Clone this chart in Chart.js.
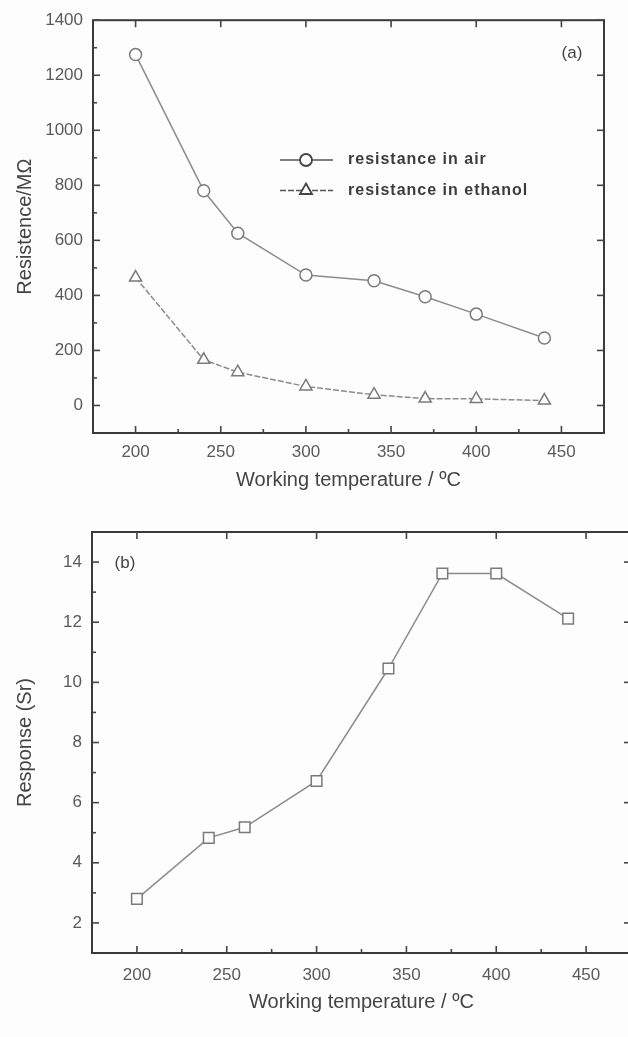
<!DOCTYPE html>
<html>
<head>
<meta charset="utf-8">
<script src="https://cdn.jsdelivr.net/npm/chart.js@4"></script>
<style>
html, body { margin: 0; padding: 0; background: #fdfdfd; overflow: hidden; }
body { width: 628px; height: 1037px; position: relative; }
#wrapA { position: absolute; left: 0; top: 0; }
#wrapB { position: absolute; left: 0; top: 500px; }
</style>
</head>
<body>
<div id="wrapA"><canvas id="chartA" width="628" height="500"></canvas></div>
<div id="wrapB"><canvas id="chartB" width="645" height="537"></canvas></div>
<script>
// data
const temps = [200, 240, 260, 300, 340, 370, 400, 440];
const resAir = [1275, 780, 626, 474, 453, 395, 332, 245];
const resEthanol = [465, 166, 121, 69, 39, 25, 24, 18];
const response = [2.8, 4.83, 5.18, 6.72, 10.46, 13.62, 13.62, 12.12];

const xTicks = [200, 250, 300, 350, 400, 450];
const xMinor = [225, 275, 325, 375, 425];
const yTicksA = [0, 200, 400, 600, 800, 1000, 1200, 1400];
const yMinorA = [100, 300, 500, 700, 900, 1100, 1300];
const yTicksB = [2, 4, 6, 8, 10, 12, 14];
const yMinorB = [3, 5, 7, 9, 11, 13];

const FONT = "'Liberation Sans', Arial, sans-serif";
const lineGray = '#8c8c8c';
const markGray = '#7a7a7a';

function pts(ys) {
    return temps.map((t, i) => ({ x: t, y: ys[i] }));
}

// box round the plot with inward ticks, plus the panel letter
const framePlugin = {
    id: 'frame',
    afterDraw(chart, args, opts) {
        const { ctx, chartArea: a, scales: { x, y } } = chart;
        ctx.save();
        ctx.strokeStyle = '#3a3a3a';
        ctx.lineWidth = 2;
        ctx.strokeRect(a.left, a.top, a.right - a.left, a.bottom - a.top);
        const tick = (x1, y1, x2, y2) => {
            ctx.beginPath(); ctx.moveTo(x1, y1); ctx.lineTo(x2, y2); ctx.stroke();
        };
        ctx.lineWidth = 1.6;
        ctx.strokeStyle = '#444';
        opts.xMajor.forEach(v => {
            const px = x.getPixelForValue(v);
            tick(px, a.bottom, px, a.bottom - 7);
            tick(px, a.top, px, a.top + 7);
        });
        opts.xMinor.forEach(v => {
            const px = x.getPixelForValue(v);
            tick(px, a.bottom, px, a.bottom - 4);
        });
        opts.yMajor.forEach(v => {
            const py = y.getPixelForValue(v);
            tick(a.left, py, a.left + 7, py);
            tick(a.right, py, a.right - 7, py);
        });
        opts.yMinor.forEach(v => {
            const py = y.getPixelForValue(v);
            tick(a.left, py, a.left + 4, py);
        });
        ctx.fillStyle = '#444';
        ctx.font = '17px ' + FONT;
        ctx.textAlign = 'center';
        ctx.textBaseline = 'middle';
        ctx.fillText(opts.label, opts.labelX, opts.labelY);
        ctx.restore();
    }
};

// legend drawn inside the plot like the original
const insideLegend = {
    id: 'insideLegend',
    afterDraw(chart, args, opts) {
        if (!opts.show) return;
        const ctx = chart.ctx;
        ctx.save();
        chart.data.datasets.forEach((ds, i) => {
            const yy = opts.y + i * opts.gap;
            ctx.strokeStyle = '#555';
            ctx.lineWidth = 1.5;
            ctx.setLineDash(ds.borderDash || []);
            ctx.beginPath();
            ctx.moveTo(opts.x, yy);
            ctx.lineTo(opts.x + 53, yy);
            ctx.stroke();
            ctx.setLineDash([]);
            ctx.fillStyle = '#fdfdfd';
            ctx.strokeStyle = '#444';
            ctx.lineWidth = 1.8;
            Chart.helpers.drawPoint(ctx, { pointStyle: ds.pointStyle, radius: ds.pointRadius, borderWidth: 1.8 }, opts.x + 26, yy);
            ctx.fillStyle = '#3c3c3c';
            ctx.font = 'bold 16px ' + FONT;
            ctx.letterSpacing = '1px';
            ctx.textAlign = 'left';
            ctx.textBaseline = 'middle';
            ctx.fillText(ds.label, opts.x + 68, yy);
            ctx.letterSpacing = '0px';
        });
        ctx.restore();
    }
};

function xScale(padTicks, padTitle, height) {
    return {
        type: 'linear',
        min: 175,
        max: 475,
        grid: { display: false, drawTicks: false },
        border: { display: false },
        afterBuildTicks: s => { s.ticks = xTicks.map(v => ({ value: v })); },
        afterFit: s => { s.height = height; },
        ticks: { color: '#5a5a5a', font: { family: FONT, size: 17 }, padding: padTicks, callback: v => String(v) },
        title: {
            display: true,
            text: 'Working temperature / ºC',
            color: '#444',
            font: { family: FONT, size: 20 },
            padding: { top: padTitle, bottom: padTitle }
        }
    };
}

function yScale(min, max, tickVals, title, width) {
    return {
        type: 'linear',
        min: min,
        max: max,
        grid: { display: false, drawTicks: false },
        border: { display: false },
        afterBuildTicks: s => { s.ticks = tickVals.map(v => ({ value: v })); },
        afterFit: s => { s.width = width; },
        ticks: { color: '#5a5a5a', font: { family: FONT, size: 17 }, padding: 10, callback: v => String(v) },
        title: {
            display: true,
            text: title,
            color: '#444',
            font: { family: FONT, size: 20 },
            padding: { top: 13, bottom: 13 }
        }
    };
}

new Chart(document.getElementById('chartA'), {
    type: 'line',
    data: {
        datasets: [
            {
                label: 'resistance in air',
                data: pts(resAir),
                borderColor: lineGray,
                borderWidth: 1.5,
                pointStyle: 'circle',
                pointRadius: 6,
                pointBorderWidth: 1.5,
                pointBorderColor: markGray,
                pointBackgroundColor: '#fdfdfd'
            },
            {
                label: 'resistance in ethanol',
                data: pts(resEthanol),
                borderColor: lineGray,
                borderWidth: 1.5,
                borderDash: [6, 2],
                pointStyle: 'triangle',
                pointRadius: 7,
                pointBorderWidth: 1.5,
                pointBorderColor: markGray,
                pointBackgroundColor: '#fdfdfd'
            }
        ]
    },
    options: {
        responsive: false,
        animation: false,
        layout: { padding: { top: 19, right: 24, left: 0, bottom: 0 } },
        scales: {
            x: xScale(9, 8, 67),
            y: yScale(-100, 1400, yTicksA, 'Resistence/MΩ', 93)
        },
        plugins: {
            legend: { display: false },
            tooltip: { enabled: false },
            frame: { xMajor: xTicks, xMinor: xMinor, yMajor: yTicksA, yMinor: yMinorA, label: '(a)', labelX: 572, labelY: 53 },
            insideLegend: { show: true, x: 280, y: 160, gap: 30.5 }
        }
    },
    plugins: [framePlugin, insideLegend]
});

new Chart(document.getElementById('chartB'), {
    type: 'line',
    data: {
        datasets: [
            {
                label: 'Response',
                data: pts(response),
                borderColor: lineGray,
                borderWidth: 1.5,
                pointStyle: 'rect',
                pointRadius: 7.5,
                pointBorderWidth: 1.5,
                pointBorderColor: markGray,
                pointBackgroundColor: '#fdfdfd'
            }
        ]
    },
    options: {
        responsive: false,
        animation: false,
        layout: { padding: { top: 32, right: 14, left: 0, bottom: 0 } },
        scales: {
            x: xScale(12, 23, 84),
            y: yScale(1, 15, yTicksB, 'Response (Sr)', 92)
        },
        plugins: {
            legend: { display: false },
            tooltip: { enabled: false },
            frame: { xMajor: xTicks, xMinor: xMinor, yMajor: yTicksB, yMinor: yMinorB, label: '(b)', labelX: 125, labelY: 63 },
            insideLegend: { show: false }
        }
    },
    plugins: [framePlugin, insideLegend]
});
</script>
</body>
</html>
